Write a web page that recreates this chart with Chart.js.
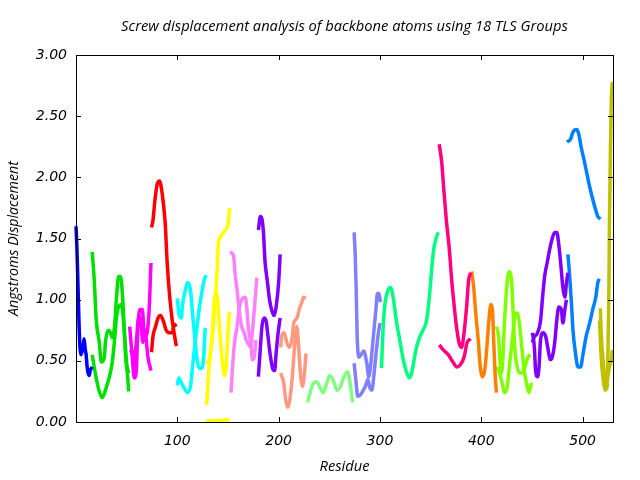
<!DOCTYPE html>
<html>
<head>
<meta charset="utf-8">
<script src="https://cdn.jsdelivr.net/npm/chart.js@4.4.1/dist/chart.umd.min.js"></script>
<style>
  html, body { margin: 0; padding: 0; background: #fff; }
  #wrap { width: 640px; height: 480px; }
</style>
</head>
<body>
<div id="wrap"><canvas id="tlsChart"></canvas></div>
<script>
// residue ticks on the x axis, displacement range on the y axis
const residueTicks = [100, 200, 300, 400, 500];
const residueRange = [0, 530];
const displacementRange = [0, 3];
const chartTitle = 'Screw displacement analysis of backbone atoms using 18 TLS Groups';

// one colour per TLS group
const groupColors = [
    '#0000ff', '#00e000', '#ff00ff', '#ff0000', '#00ffff', '#ffff00',
    '#ff80ff', '#8000ff', '#ff9980', '#80ff80', '#8080ff', '#00ff80',
    '#ff0080', '#ff8000', '#80ff00', '#8000ff', '#0080ff', '#c0c000'
];

// [residue, displacement], two traces per group
const g01a = [[0,1.6],[1,1.4],[2,1.1],[3,0.8],[4,0.6],[5,0.55],[7,0.62],[8,0.68],[9,0.6],[10,0.55],[11,0.45],[12,0.40],[13,0.38],[14,0.42],[16,0.45]];
const g02a = [[16,1.39],[18,1.16],[20,0.83],[23,0.65],[25,0.49],[28,0.53],[29,0.65],[32,0.75],[34,0.73],[36,0.69],[38,0.78],[40,1.02],[42,1.19],[44,1.19],[46,1.02],[47.5,0.78],[49,0.53],[51,0.37],[52,0.25]];
const g02b = [[16,0.55],[19,0.40],[23,0.25],[26,0.2],[29,0.26],[33,0.37],[36,0.5],[38,0.67],[40,0.86],[42,0.94],[45,0.96],[46.5,0.86],[48.5,0.65],[50,0.48],[52,0.40]];
const g03a = [[53,0.78],[55.5,0.53],[57.5,0.36],[59.5,0.42],[61,0.75],[63,0.92],[65.5,0.92],[67,0.75],[69,0.70],[72,0.89],[74,1.30]];
const g03b = [[53,0.57],[55.5,0.58],[57,0.45],[59.5,0.65],[62,0.86],[64,0.83],[66,0.65],[68,0.75],[71,0.53],[74,0.42]];
const g04a = [[74.5,1.59],[76,1.65],[78,1.82],[80,1.94],[82.5,1.97],[85,1.87],[88,1.63],[90,1.30],[92.5,1.02],[95,0.83],[97,0.72],[99,0.62]];
const g04b = [[74.5,0.57],[76,0.70],[78.5,0.78],[81,0.85],[83.5,0.87],[86,0.83],[89,0.75],[92,0.73],[95,0.73],[97,0.80],[99,0.78]];
const g05a = [[100,1.01],[101.5,0.89],[104,0.85],[105,0.95],[108,1.08],[110,1.14],[113,1.08],[115,0.89],[117.5,0.67],[119.5,0.51],[121.5,0.44],[124,0.44],[126,0.53],[127.5,0.77]];
const g05b = [[100,0.30],[101.5,0.36],[104,0.32],[108,0.26],[110,0.24],[113,0.29],[115,0.45],[117,0.61],[119.5,0.78],[121.5,0.92],[124,1.05],[126.5,1.16],[128.5,1.20]];
const g06a = [[129,0.14],[130,0.29],[132,0.51],[134,0.65],[136.5,0.89],[138,1.05],[139.5,1.27],[140.5,1.46],[142.5,1.51],[145.5,1.55],[149,1.59],[150.5,1.64],[151.5,1.75]];
const g06b = [[128.5,0.48],[131,0.50],[134,0.67],[136,0.92],[137.5,1.05],[139.5,1.02],[141.5,0.78],[144,0.53],[146.5,0.38],[148.5,0.48],[150,0.73],[151.5,0.90]];
const g06c = [[128.5,0.0],[131,0.01],[140,0.01],[151.5,0.02]];
const g07a = [[152,1.39],[155.5,1.36],[157,1.21],[159,1.08],[161,0.92],[163.5,0.78],[166,0.73],[168,0.67],[170,0.64],[172.5,0.61],[174,0.73],[176,0.92],[178.5,1.18]];
const g07b = [[153,0.24],[154.5,0.45],[156.5,0.65],[159,0.78],[161,0.92],[163.5,1.0],[167,1.02],[168.5,0.94],[170,0.78],[173,0.61],[174,0.51],[176,0.53],[177.5,0.67]];
const g08a = [[180,1.57],[182,1.68],[183.5,1.66],[185,1.55],[186.5,1.32],[189,1.14],[191,1.0],[193,0.92],[195.5,0.87],[197.5,0.94],[200,1.14],[201.5,1.37]];
const g08b = [[180,0.37],[182,0.61],[183.5,0.78],[185.5,0.85],[187.5,0.83],[189.5,0.70],[191.5,0.56],[194,0.44],[196,0.42],[197.5,0.56],[199.5,0.73],[201.5,0.85]];
const g09a = [[202,0.61],[203,0.70],[205.5,0.73],[208,0.65],[210.5,0.61],[213,0.67],[215,0.81],[218,0.85],[221,0.94],[223,0.98],[224.5,1.02],[227,1.01]];
const g09b = [[202,0.40],[205,0.32],[207,0.18],[209,0.12],[211,0.18],[213.5,0.37],[215.5,0.59],[218,0.78],[219.5,0.65],[221,0.45],[223.5,0.29],[225.5,0.40],[227,0.56]];
const g10a = [[228.5,0.16],[231,0.24],[234.5,0.32],[237.5,0.33],[241,0.28],[244,0.24],[247.5,0.32],[250.5,0.38],[254,0.34],[257.5,0.26],[260.5,0.28],[264,0.36],[268,0.41],[270.5,0.32],[273,0.16]];
const g11a = [[274.5,1.55],[275.5,1.38],[276.5,1.10],[277.5,0.70],[279.5,0.53],[282,0.56],[284,0.58],[287,0.48],[289,0.37],[291,0.48],[293.5,0.70],[296,0.92],[297.5,1.05],[299,1.05],[300.5,0.98]];
const g11b = [[274.5,0.48],[276.5,0.32],[278,0.21],[280.5,0.22],[283.5,0.26],[286,0.30],[288,0.35],[290,0.28],[292,0.26],[294,0.38],[296,0.55],[298,0.70],[300,0.81]];
const g12a = [[301.5,0.44],[303,0.75],[305,0.97],[308,1.08],[310.5,1.10],[313,1.02],[316.5,0.81],[320,0.65],[323,0.51],[326.5,0.40],[329.5,0.36],[332,0.43],[335.5,0.59],[339.5,0.70],[342.5,0.75],[346,0.83],[348.5,1.0],[351,1.24],[353,1.41],[355,1.49],[357.5,1.55]];
const g13a = [[358.5,2.27],[361,2.12],[363,1.90],[365.5,1.65],[368.5,1.41],[370.5,1.19],[373,0.97],[375.5,0.78],[378,0.65],[380.5,0.61],[383,0.73],[385.5,0.94],[387.5,1.16],[389.5,1.22]];
const g13b = [[358.5,0.63],[362.5,0.59],[367.5,0.55],[372,0.49],[376,0.45],[379.5,0.47],[383,0.53],[386,0.65],[389.5,0.68]];
const g14a = [[390.5,1.23],[392.5,1.10],[394.5,0.89],[397,0.67],[399,0.45],[401,0.37],[403.5,0.43],[405.5,0.61],[407.5,0.83],[409.5,0.96],[411,0.92],[412.5,0.61],[414,0.34],[415,0.24]];
const g15a = [[415,0.78],[417,0.70],[418.5,0.50],[420,0.40],[421.5,0.55],[423,0.83],[425.5,1.14],[427.5,1.23],[430,1.14],[431.5,0.89],[433,0.61],[435.5,0.45],[438,0.40],[440,0.40],[443,0.45],[446,0.53],[448.5,0.55]];
const g15b = [[415.5,0.45],[418,0.40],[420.5,0.32],[423,0.24],[425.5,0.28],[428,0.48],[431,0.70],[433,0.86],[435.5,0.89],[438,0.78],[440,0.61],[442,0.45],[444.5,0.32],[447,0.24],[449.5,0.32]];
const g16a = [[450.5,0.65],[452.5,0.70],[455,0.72],[458.5,0.83],[460.5,1.02],[462.5,1.19],[465,1.30],[467.5,1.41],[470,1.50],[472.5,1.55],[474.5,1.55],[476.5,1.45],[479,1.24],[480.5,1.10],[482.5,1.02],[484,1.13],[485.5,1.22]];
const g16b = [[450.5,0.73],[452.5,0.60],[453.5,0.43],[455.5,0.37],[457,0.45],[458.5,0.67],[461,0.73],[463.5,0.70],[466,0.59],[468,0.51],[470,0.53],[472.5,0.65],[474.5,0.83],[476.5,0.94],[479,0.92],[480.5,0.81],[482.5,0.92],[484,1.0]];
const g17a = [[484.5,2.29],[488,2.31],[490.5,2.37],[494,2.39],[496,2.36],[498.5,2.25],[502,2.12],[505.5,1.98],[508.5,1.87],[512,1.76],[515,1.68],[517.5,1.66]];
const g17b = [[485.5,1.37],[487,1.22],[489,0.97],[490.5,0.75],[493,0.56],[495.5,0.45],[498,0.45],[500.5,0.56],[503.5,0.70],[507,0.81],[510,0.92],[513,1.02],[515,1.14],[516.5,1.17]];
const g18a = [[517.5,0.93],[518.5,0.70],[520.5,0.48],[522.5,0.29],[524,0.27],[525,0.56],[526,1.10],[526.5,1.65],[527,1.92],[527.5,2.26],[528.3,2.62],[529.3,2.78]];
const g18b = [[516.7,0.83],[518.5,0.51],[520,0.37],[522.5,0.26],[524,0.32],[526,0.43],[528.3,0.51],[529.3,0.59]];

// trace -> group index
const traces = [
    [g01a, 0], [g02a, 1], [g02b, 1], [g03a, 2], [g03b, 2], [g04a, 3], [g04b, 3],
    [g05a, 4], [g05b, 4], [g06a, 5], [g06b, 5], [g06c, 5], [g07a, 6], [g07b, 6],
    [g08a, 7], [g08b, 7], [g09a, 8], [g09b, 8], [g10a, 9], [g11a, 10], [g11b, 10],
    [g12a, 11], [g13a, 12], [g13b, 12], [g14a, 13], [g15a, 14], [g15b, 14],
    [g16a, 15], [g16b, 15], [g17a, 16], [g17b, 16], [g18a, 17], [g18b, 17]
];

const TEXT_FONT = "'Open Sans', 'DejaVu Sans', sans-serif";
const TICK_FONT = "'DejaVu Sans', sans-serif";

// box around the plot with short inward tick marks on all four sides,
// plus the title centred over the plot area (gnuplot style)
const framePlugin = {
    id: 'frame',
    afterDatasetsDraw(chart) {
        const {ctx, chartArea: a, scales} = chart;
        const len = 5;
        ctx.save();
        ctx.strokeStyle = '#000';
        ctx.lineWidth = 1;
        ctx.strokeRect(a.left + 0.5, a.top + 0.5, a.right - a.left, a.bottom - a.top);
        ctx.beginPath();
        scales.x.ticks.forEach(t => {
            const px = Math.round(scales.x.getPixelForValue(t.value)) + 0.5;
            ctx.moveTo(px, a.bottom); ctx.lineTo(px, a.bottom - len);
            ctx.moveTo(px, a.top); ctx.lineTo(px, a.top + len);
        });
        scales.y.ticks.forEach(t => {
            const py = Math.round(scales.y.getPixelForValue(t.value)) + 0.5;
            ctx.moveTo(a.left, py); ctx.lineTo(a.left + len, py);
            ctx.moveTo(a.right, py); ctx.lineTo(a.right - len, py);
        });
        ctx.stroke();

        ctx.fillStyle = '#000';
        ctx.font = 'italic 14.7px ' + TEXT_FONT;
        ctx.textAlign = 'center';
        ctx.textBaseline = 'middle';
        ctx.fillText(chartTitle, (a.left + a.right) / 2, 27);
        ctx.restore();
    }
};

new Chart(document.getElementById('tlsChart'), {
    type: 'line',
    data: {
        datasets: traces.map(([pts, g]) => ({
            data: pts.map(([x, y]) => ({x: x, y: y})),
            borderColor: groupColors[g],
            borderWidth: 3.5,
            pointRadius: 0,
            fill: false,
            cubicInterpolationMode: 'monotone',
            clip: false
        }))
    },
    options: {
        responsive: true,
        maintainAspectRatio: false,
        animation: false,
        layout: { padding: { left: 0, right: 27, top: 55, bottom: 0 } },
        plugins: {
            legend: { display: false },
            tooltip: { enabled: false },
            title: { display: false }
        },
        scales: {
            x: {
                type: 'linear',
                min: residueRange[0],
                max: residueRange[1],
                afterBuildTicks: s => { s.ticks = residueTicks.map(v => ({value: v})); },
                afterFit: s => { s.height = 58; },
                grid: { display: false, drawTicks: false },
                border: { display: false },
                ticks: {
                    padding: 11,
                    color: '#000',
                    maxRotation: 0,
                    font: { family: TICK_FONT, size: 14, style: 'italic' }
                },
                title: {
                    display: true,
                    text: 'Residue',
                    color: '#000',
                    font: { family: TEXT_FONT, size: 14.7, style: 'italic' },
                    padding: { bottom: 4 }
                }
            },
            y: {
                min: displacementRange[0],
                max: displacementRange[1],
                afterFit: s => { s.width = 76; },
                grid: { display: false, drawTicks: false },
                border: { display: false },
                ticks: {
                    stepSize: 0.5,
                    padding: 9,
                    color: '#000',
                    font: { family: TICK_FONT, size: 14, style: 'italic' },
                    callback: v => v.toFixed(2)
                },
                title: {
                    display: true,
                    text: 'Angstroms Displacement',
                    color: '#000',
                    font: { family: TEXT_FONT, size: 14.2, style: 'italic' },
                    padding: { top: 5 }
                }
            }
        }
    },
    plugins: [framePlugin]
});
</script>
</body>
</html>
